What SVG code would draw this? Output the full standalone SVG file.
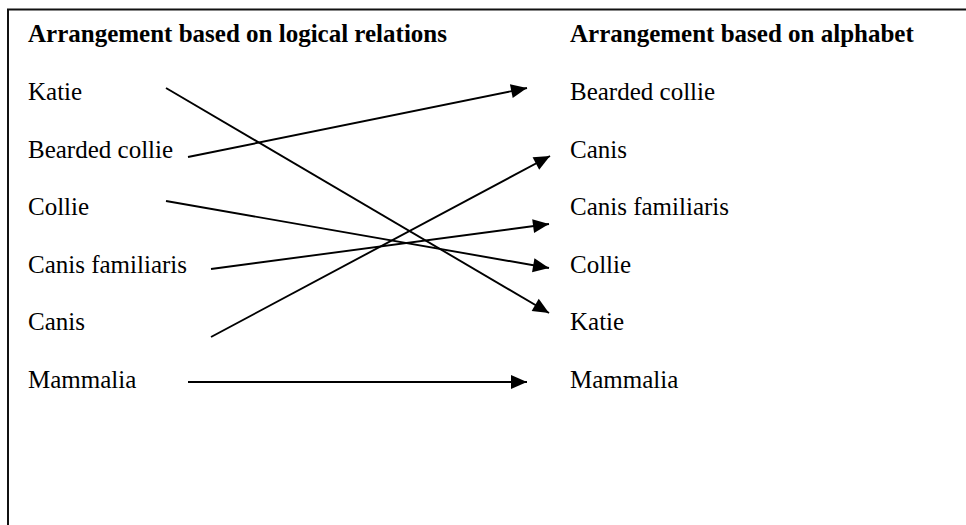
<svg xmlns="http://www.w3.org/2000/svg" width="966" height="525" viewBox="0 0 966 525">
<style>
  text { font-family: "Liberation Serif", "Times New Roman", serif; font-size: 25px; fill: #000; }
  .h { font-weight: bold; }
  .c { stroke: #000; stroke-width: 1.9; fill: none; marker-end: url(#ah); }
  .frame { stroke: #111; stroke-width: 2; fill: none; }
</style>
<defs>
  <marker id="ah" markerUnits="userSpaceOnUse" markerWidth="18" markerHeight="14" refX="16" refY="7" orient="auto" overflow="visible">
    <path d="M0,0 L16,7 L0,14 z" fill="#000"/>
  </marker>
</defs>
<rect width="966" height="525" fill="#fff"/>
<path class="frame" d="M8,525 L8,9.5 L966,9.5"/>
<g id="headings">
  <text class="h" x="28" y="42">Arrangement based on logical relations</text>
  <text class="h" x="570" y="42">Arrangement based on alphabet</text>
</g>
<g id="left-katie"><text x="28" y="100">Katie</text></g>
<g id="left-bearded-collie"><text x="28" y="157.5">Bearded collie</text></g>
<g id="left-collie"><text x="28" y="215">Collie</text></g>
<g id="left-canis-familiaris"><text x="28" y="272.5">Canis familiaris</text></g>
<g id="left-canis"><text x="28" y="330">Canis</text></g>
<g id="left-mammalia"><text x="28" y="387.5">Mammalia</text></g>
<g id="right-bearded-collie"><text x="570" y="100">Bearded collie</text></g>
<g id="right-canis"><text x="570" y="157.5">Canis</text></g>
<g id="right-canis-familiaris"><text x="570" y="215">Canis familiaris</text></g>
<g id="right-collie"><text x="570" y="272.5">Collie</text></g>
<g id="right-katie"><text x="570" y="330">Katie</text></g>
<g id="right-mammalia"><text x="570" y="387.5">Mammalia</text></g>
<g id="connectors">
  <line class="c" x1="166" y1="88" x2="549" y2="313"/>
  <line class="c" x1="188" y1="157" x2="527" y2="88"/>
  <line class="c" x1="166" y1="201" x2="549" y2="268"/>
  <line class="c" x1="211" y1="269" x2="549" y2="224"/>
  <line class="c" x1="211" y1="337" x2="550" y2="156"/>
  <line class="c" x1="188" y1="382" x2="527" y2="382"/>
</g>
</svg>
